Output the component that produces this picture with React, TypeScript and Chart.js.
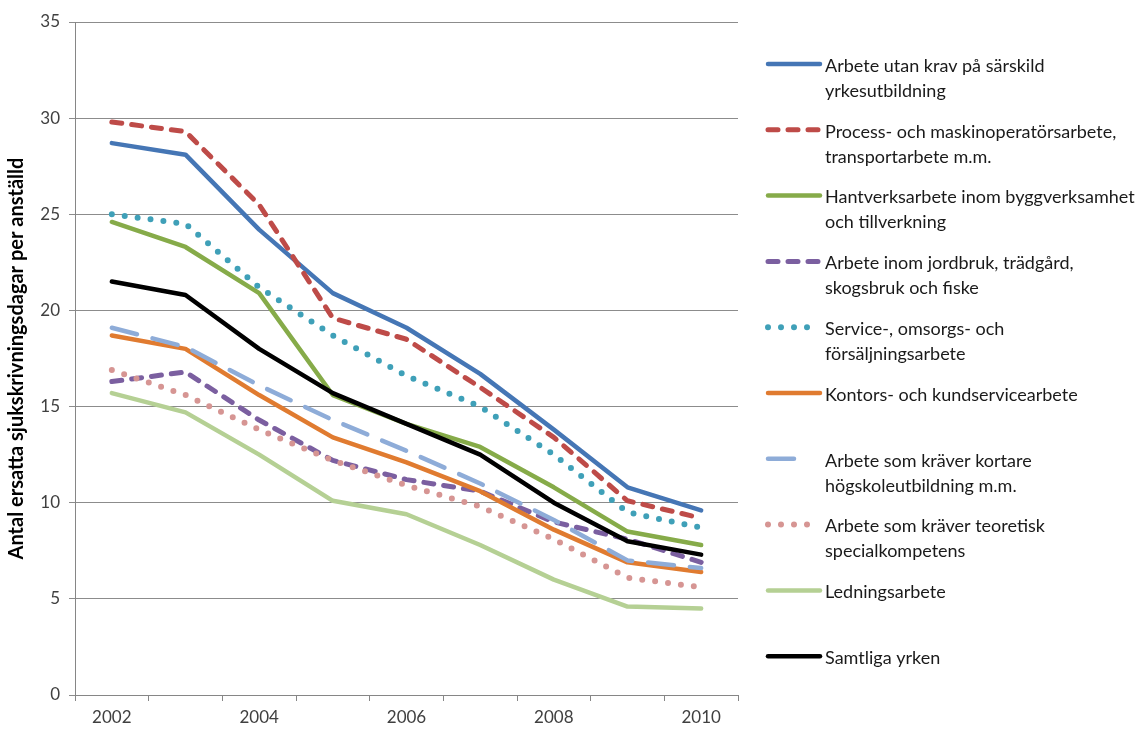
import React, { useEffect, useRef } from "react";
import { Chart, registerables } from "chart.js";

Chart.register(...registerables);

const years = ["2002", "2003", "2004", "2005", "2006", "2007", "2008", "2009", "2010"];
const yTicks = [0, 5, 10, 15, 20, 25, 30, 35];
const yTitle = "Antal ersatta sjukskrivningsdagar per anställd";

const utanKrav = [28.7, 28.1, 24.2, 20.9, 19.1, 16.7, 13.8, 10.8, 9.6];
const process = [29.8, 29.3, 25.5, 19.6, 18.5, 16.0, 13.4, 10.1, 9.2];
const hantverk = [24.6, 23.3, 20.9, 15.6, 14.1, 12.9, 10.8, 8.5, 7.8];
const jordbruk = [16.3, 16.8, 14.3, 12.2, 11.2, 10.6, 9.0, 8.1, 6.9];
const service = [25.0, 24.5, 21.2, 18.7, 16.6, 15.0, 12.5, 9.5, 8.7];
const kontor = [18.7, 18.0, 15.6, 13.4, 12.1, 10.6, 8.6, 6.9, 6.4];
const kortare = [19.1, 18.1, 16.1, 14.3, 12.7, 11.0, 9.1, 7.0, 6.6];
const teoretisk = [16.9, 15.6, 13.8, 12.2, 10.9, 9.8, 8.1, 6.1, 5.6];
const ledning = [15.7, 14.7, 12.5, 10.1, 9.4, 7.8, 6.0, 4.6, 4.5];
const samtliga = [21.5, 20.8, 18.0, 15.7, 14.1, 12.5, 10.0, 8.0, 7.3];

const labels: string[][] = [
  ["Arbete utan krav på särskild", "yrkesutbildning"],
  ["Process- och maskinoperatörsarbete,", "transportarbete m.m."],
  ["Hantverksarbete inom byggverksamhet", "och tillverkning"],
  ["Arbete inom jordbruk, trädgård,", "skogsbruk och fiske"],
  ["Service-, omsorgs- och", "försäljningsarbete"],
  ["Kontors- och kundservicearbete"],
  ["Arbete som kräver kortare", "högskoleutbildning m.m."],
  ["Arbete som kräver teoretisk", "specialkompetens"],
  ["Ledningsarbete"],
  ["Samtliga yrken"],
];

const seriesValues = [utanKrav, process, hantverk, jordbruk, service, kontor, kortare, teoretisk, ledning, samtliga];

const styles = [
  { color: "#4576B5", dash: [] as number[], width: 4.5 },
  { color: "#BE4B48", dash: [10, 10], width: 5 },
  { color: "#86AB49", dash: [], width: 4.5 },
  { color: "#7B5FA0", dash: [10, 10], width: 5 },
  { color: "#3FA0B8", dash: [0, 13], width: 6 },
  { color: "#E07B30", dash: [], width: 4.5 },
  { color: "#8EACD8", dash: [26, 16], width: 4.5 },
  { color: "#D69593", dash: [0, 13], width: 6 },
  { color: "#B5D094", dash: [], width: 4.5 },
  { color: "#000000", dash: [], width: 4.5 },
];

const FONT = "Lato, 'Open Sans', sans-serif";

const legendPlugin = {
  id: "customLegend",
  afterDraw(chart: any) {
    const ctx = chart.ctx as CanvasRenderingContext2D;
    const area = chart.chartArea;
    const x0 = area.right + 30;
    const lineLen = 52;
    const top = area.top + 44;
    const step = 65.8;
    ctx.save();
    ctx.font = `18px ${FONT}`;
    ctx.textBaseline = "middle";
    ctx.fillStyle = "#1a1a1a";
    labels.forEach((lines, i) => {
      const st = styles[i];
      const y = top + i * step;
      ctx.beginPath();
      ctx.strokeStyle = st.color;
      ctx.lineWidth = st.width;
      ctx.lineCap = "round";
      ctx.setLineDash(st.dash);
      ctx.moveTo(x0, y - 2);
      ctx.lineTo(x0 + (i === 6 ? lineLen - 14 : lineLen), y - 2);
      ctx.stroke();
      ctx.setLineDash([]);
      lines.forEach((t, j) => {
        ctx.fillText(t, x0 + lineLen + 5, y + j * 25);
      });
    });
    ctx.restore();
  },
};

export default function App() {
  const ref = useRef<HTMLCanvasElement | null>(null);
  useEffect(() => {
    if (!ref.current) return;
    const chart = new Chart(ref.current, {
      type: "line",
      data: {
        labels: years,
        datasets: seriesValues.map((vals, i) => ({
          label: labels[i].join(" "),
          data: vals,
          borderColor: styles[i].color,
          backgroundColor: styles[i].color,
          borderWidth: styles[i].width,
          borderDash: styles[i].dash,
          borderCapStyle: "round" as const,
          borderJoinStyle: "round" as const,
          pointRadius: 0,
          tension: 0,
          fill: false,
          order: -i,
        })),
      },
      options: {
        animation: false,
        responsive: false,
        maintainAspectRatio: false,
        layout: { padding: { top: 22, right: 409, bottom: 0, left: 0 } },
        plugins: { legend: { display: false }, tooltip: { enabled: false } },
        scales: {
          x: {
            type: "category",
            offset: true,
            afterFit: (s: any) => {
              s.height = 36;
            },
            grid: {
              offset: true,
              drawOnChartArea: false,
              drawTicks: true,
              tickLength: 6,
              color: "#868686",
            },
            border: { color: "#868686", width: 1 },
            ticks: {
              autoSkip: false,
              maxRotation: 0,
              padding: 6,
              color: "#404040",
              font: { family: FONT, size: 17 },
              callback: (_v: any, idx: number) => (idx % 2 === 0 ? years[idx] : ""),
            },
          },
          y: {
            min: 0,
            max: 35,
            afterFit: (s: any) => {
              s.width = 75;
            },
            afterBuildTicks: (s: any) => {
              s.ticks = yTicks.map((v) => ({ value: v }));
            },
            grid: {
              color: "#8c8c8c",
              lineWidth: 1,
              drawTicks: true,
              tickLength: 6,
            },
            border: { color: "#868686", width: 1 },
            ticks: {
              padding: 9,
              color: "#404040",
              font: { family: FONT, size: 17 },
            },
            title: {
              display: true,
              text: yTitle,
              color: "#000",
              font: { family: FONT, size: 20, weight: "bold" },
              padding: { top: 5, bottom: 0 },
            },
          },
        },
      },
      plugins: [legendPlugin],
    });
    return () => chart.destroy();
  }, []);
  return (
    <div style={{ position: "fixed", left: 0, top: 0, width: 1147, height: 731, background: "#fff" }}>
      <canvas ref={ref} width={1147} height={731} style={{ width: 1147, height: 731, display: "block" }} />
    </div>
  );
}
